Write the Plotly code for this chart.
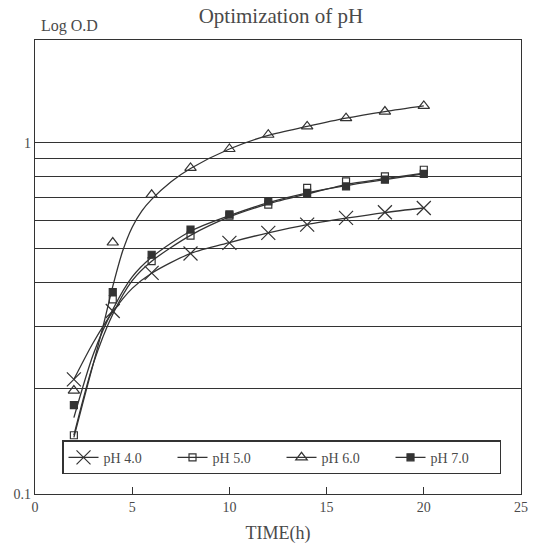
import plotly.graph_objects as go

# measured points
time_h = [2, 4, 6, 8, 10, 12, 14, 16, 18, 20]
ph4 = [0.212, 0.332, 0.426, 0.484, 0.519, 0.554, 0.585, 0.611, 0.634, 0.652]
ph5 = [0.147, 0.358, 0.46, 0.544, 0.62, 0.667, 0.744, 0.776, 0.802, 0.838]
ph6 = [0.197, 0.52, 0.711, 0.848, 0.96, 1.054, 1.113, 1.175, 1.227, 1.273]
ph7 = [0.179, 0.376, 0.48, 0.566, 0.625, 0.681, 0.72, 0.751, 0.785, 0.815]

# fitted curves
fit_t = [2, 3, 4, 5, 6, 8, 10, 12, 14, 16, 18, 20]
fit_ph4 = [0.212, 0.27, 0.33, 0.385, 0.425, 0.484, 0.52, 0.554, 0.585, 0.61, 0.633, 0.652]
fit_ph5 = [0.147, 0.235, 0.325, 0.405, 0.46, 0.545, 0.615, 0.67, 0.715, 0.76, 0.79, 0.82]
fit_ph7 = [0.165, 0.25, 0.335, 0.415, 0.472, 0.56, 0.62, 0.675, 0.72, 0.755, 0.785, 0.815]
fit6_t = [2, 2.5, 3, 3.5, 4, 4.5, 5, 5.5, 6, 7, 8, 10, 12, 14, 16, 18, 20]
fit_ph6 = [0.145, 0.185, 0.235, 0.30, 0.39, 0.49, 0.575, 0.64, 0.69, 0.775, 0.845, 0.96, 1.05, 1.113, 1.175, 1.227, 1.273]

names = ["pH 4.0", "pH 5.0", "pH 6.0", "pH 7.0"]
x_ticks = [0, 5, 10, 15, 20, 25]
y_grid = [0.1, 0.2, 0.3, 0.4, 0.5, 0.6, 0.7, 0.8, 0.9, 1]
y_text = ["0.1", "", "", "", "", "", "", "", "", "1"]

INK = "#333333"
TXT = "#4a4a4a"
FONT = "Liberation Serif"

symbols = ["x-thin-open", "square-open", "triangle-up-open", "square"]
sizes = [14, 7, 10, 7]
series = [ph4, ph5, ph6, ph7]
fits = [(fit_t, fit_ph4), (fit_t, fit_ph5), (fit6_t, fit_ph6), (fit_t, fit_ph7)]

fig = go.Figure()
for i in range(4):
    ft, fv = fits[i]
    fig.add_trace(go.Scatter(x=ft, y=fv, mode="lines", line=dict(color=INK, width=1.3, shape="spline", smoothing=0.8),
                             showlegend=False, hoverinfo="skip"))
    fig.add_trace(go.Scatter(x=time_h, y=series[i], mode="markers", showlegend=False,
                             marker=dict(symbol=symbols[i], size=sizes[i], color=INK,
                                         line=dict(color=INK, width=1.2))))
for i in range(4):
    fig.add_trace(go.Scatter(x=[None], y=[None], mode="lines+markers", name=names[i],
                             line=dict(color=INK, width=1.3),
                             marker=dict(symbol=symbols[i], size=sizes[i], color=INK,
                                         line=dict(color=INK, width=1.2))))

fig.update_layout(
    width=535, height=547,
    margin=dict(l=35, r=7, t=40, b=51),
    paper_bgcolor="white", plot_bgcolor="white",
    font=dict(family=FONT, color=TXT, size=14),
    title=dict(text="Optimization of pH", x=0.525, xanchor="center", y=0.972, yanchor="middle",
               font=dict(family=FONT, size=21, color=TXT)),
    xaxis=dict(range=[0, 25], tickvals=x_ticks, ticks="inside", ticklen=7, tickcolor=INK,
               showline=True, linecolor=INK, linewidth=1.3, mirror=True, showgrid=False, zeroline=False,
               title=dict(text="TIME(h)", font=dict(family=FONT, size=18, color=TXT), standoff=12),
               tickfont=dict(family=FONT, size=14, color=TXT)),
    yaxis=dict(type="log", range=[-1, 0.2926], tickvals=y_grid, ticktext=y_text, ticks="",
               showline=True, linecolor=INK, linewidth=1.3, mirror=True,
               showgrid=True, gridcolor=INK, gridwidth=1.2, zeroline=False,
               tickfont=dict(family=FONT, size=14, color=TXT)),
    legend=dict(orientation="h", x=0.056, y=0.118, xanchor="left", yanchor="top",
                bordercolor=INK, borderwidth=1.3, bgcolor="white",
                font=dict(family=FONT, size=14, color=TXT),
                entrywidth=64, entrywidthmode="pixels", itemwidth=30),
    annotations=[dict(text="Log O.D", xref="paper", yref="paper", x=0.008, y=1.0,
                      xanchor="left", yanchor="bottom", yshift=3, showarrow=False,
                      font=dict(family=FONT, size=16, color=TXT))],
)

fig.write_html("out.html")
